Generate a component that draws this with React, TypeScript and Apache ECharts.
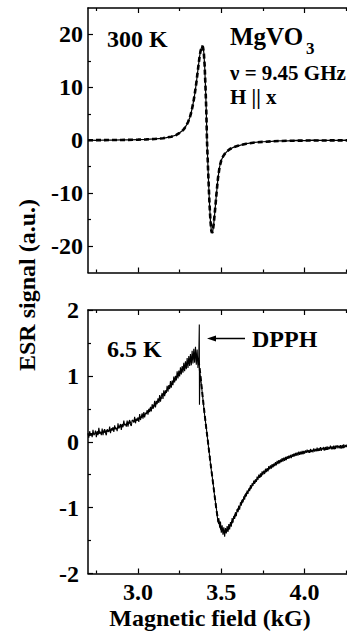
import React, { useEffect, useRef } from "react";
import * as echarts from "echarts";

// ---- Data ----
// 300 K: measured ESR signal (solid) and fit (dashed)
const ESR_300K: [number, number][] = [
  [2.70, 0.02], [2.75, -0.03], [2.80, 0.05], [2.85, 0.01], [2.90, 0.07], [2.95, 0.06],
  [3.00, 0.12], [3.05, 0.15], [3.10, 0.25], [3.15, 0.37], [3.20, 0.69], [3.23, 1.0],
  [3.25, 1.4], [3.27, 1.9], [3.28, 2.3], [3.29, 2.8], [3.30, 3.4], [3.31, 4.2], [3.32, 5.3],
  [3.33, 6.8], [3.34, 8.6], [3.35, 10.8], [3.36, 13.4], [3.37, 15.9], [3.375, 16.8],
  [3.38, 17.4], [3.385, 17.8], [3.39, 17.6], [3.395, 16.6], [3.40, 14.2], [3.405, 10.2],
  [3.41, 5.5], [3.414, 0.0], [3.42, -5.0], [3.425, -9.0], [3.43, -12.5], [3.435, -15.3],
  [3.44, -17.1], [3.444, -17.5], [3.448, -17.3], [3.45, -16.9], [3.455, -15.7], [3.46, -14.0],
  [3.465, -12.3], [3.47, -10.5], [3.475, -8.8], [3.48, -7.2], [3.49, -5.0], [3.50, -3.8],
  [3.51, -3.1], [3.52, -2.6], [3.535, -2.1], [3.55, -1.7], [3.575, -1.3], [3.60, -1.05],
  [3.65, -0.65], [3.70, -0.42], [3.75, -0.28], [3.80, -0.22], [3.85, -0.12], [3.90, -0.10],
  [3.95, -0.04], [4.00, -0.06], [4.05, 0.01], [4.10, -0.04], [4.15, 0.0], [4.20, -0.02],
  [4.25, 0.01], [4.30, -0.01],
];

const FIT_300K: [number, number][] = [
  [2.70, 0.0], [2.80, 0.03], [2.90, 0.06], [3.00, 0.11], [3.05, 0.16], [3.10, 0.24],
  [3.15, 0.38], [3.20, 0.68], [3.23, 1.0], [3.25, 1.4], [3.27, 1.9], [3.28, 2.3], [3.29, 2.8],
  [3.30, 3.4], [3.31, 4.2], [3.32, 5.3], [3.33, 6.8], [3.34, 8.6], [3.35, 10.8], [3.36, 13.4],
  [3.37, 15.9], [3.375, 16.8], [3.38, 17.4], [3.385, 17.8], [3.39, 17.6], [3.395, 16.6],
  [3.40, 14.2], [3.405, 10.2], [3.41, 5.5], [3.414, 0.0], [3.42, -5.0], [3.425, -9.0],
  [3.43, -12.5], [3.435, -15.3], [3.44, -17.1], [3.444, -17.5], [3.448, -17.3], [3.45, -16.9],
  [3.455, -15.7], [3.46, -14.0], [3.465, -12.3], [3.47, -10.5], [3.475, -8.8], [3.48, -7.2],
  [3.49, -5.0], [3.50, -3.8], [3.51, -3.1], [3.52, -2.6], [3.535, -2.1], [3.55, -1.7],
  [3.575, -1.3], [3.60, -1.05], [3.65, -0.65], [3.70, -0.42], [3.80, -0.2], [3.90, -0.1],
  [4.00, -0.06], [4.10, -0.04], [4.20, -0.02], [4.30, -0.01],
];

// 6.5 K: measured ESR signal (noisy, with the narrow DPPH marker line)
const ESR_6K: [number, number][] = [
  [2.700, 0.13], [2.705, 0.06], [2.710, 0.16], [2.715, 0.10], [2.720, 0.13], [2.725, 0.07],
  [2.730, 0.18], [2.735, 0.10], [2.740, 0.12], [2.745, 0.17], [2.750, 0.07], [2.755, 0.16],
  [2.760, 0.10], [2.765, 0.21], [2.770, 0.13], [2.775, 0.15], [2.780, 0.10], [2.785, 0.20],
  [2.790, 0.10], [2.795, 0.17], [2.800, 0.19], [2.805, 0.13], [2.810, 0.10], [2.815, 0.19],
  [2.820, 0.17], [2.825, 0.15], [2.830, 0.23], [2.835, 0.13], [2.840, 0.20], [2.845, 0.17],
  [2.850, 0.22], [2.855, 0.15], [2.860, 0.25], [2.865, 0.19], [2.870, 0.21], [2.875, 0.16],
  [2.880, 0.28], [2.885, 0.20], [2.890, 0.23], [2.895, 0.27], [2.900, 0.18], [2.905, 0.27],
  [2.910, 0.22], [2.915, 0.32], [2.920, 0.25], [2.925, 0.27], [2.930, 0.23], [2.935, 0.32],
  [2.940, 0.23], [2.945, 0.30], [2.950, 0.33], [2.955, 0.26], [2.960, 0.24], [2.965, 0.33],
  [2.970, 0.32], [2.975, 0.29], [2.980, 0.38], [2.985, 0.28], [2.990, 0.35], [2.995, 0.32],
  [3.000, 0.37], [3.005, 0.30], [3.010, 0.42], [3.015, 0.33], [3.020, 0.38], [3.025, 0.43],
  [3.030, 0.35], [3.035, 0.45], [3.040, 0.37], [3.045, 0.44], [3.050, 0.42], [3.055, 0.48],
  [3.060, 0.41], [3.065, 0.50], [3.070, 0.45], [3.075, 0.53], [3.080, 0.46], [3.085, 0.57],
  [3.090, 0.50], [3.095, 0.53], [3.100, 0.62], [3.105, 0.52], [3.110, 0.62], [3.115, 0.57],
  [3.120, 0.66], [3.125, 0.59], [3.130, 0.71], [3.135, 0.61], [3.140, 0.69], [3.145, 0.74],
  [3.150, 0.65], [3.155, 0.78], [3.160, 0.69], [3.165, 0.78], [3.170, 0.74], [3.175, 0.85],
  [3.180, 0.76], [3.185, 0.86], [3.190, 0.80], [3.195, 0.92], [3.200, 0.82], [3.205, 0.93],
  [3.210, 0.86], [3.215, 0.99], [3.220, 0.90], [3.225, 1.00], [3.230, 0.93], [3.235, 1.07],
  [3.240, 0.96], [3.245, 1.08], [3.250, 0.99], [3.255, 1.13], [3.260, 1.02], [3.265, 1.15],
  [3.270, 1.05], [3.275, 1.20], [3.280, 1.07], [3.285, 1.22], [3.290, 1.10], [3.295, 1.27],
  [3.300, 1.12], [3.305, 1.30], [3.310, 1.15], [3.315, 1.33], [3.320, 1.16], [3.325, 1.38],
  [3.330, 1.19], [3.335, 1.41], [3.340, 1.20], [3.345, 1.44], [3.350, 1.17], [3.355, 1.40],
  [3.360, 1.12], [3.365, 1.30], [3.368, 1.78], [3.369, 0.56], [3.372, 1.05],
  [3.380, 0.88], [3.390, 0.64], [3.400, 0.40], [3.410, 0.21], [3.420, -0.01], [3.430, -0.22],
  [3.440, -0.43], [3.450, -0.61], [3.460, -0.83], [3.470, -1.00],
  [3.480, -1.22], [3.485, -1.16], [3.490, -1.30], [3.495, -1.21], [3.500, -1.38], [3.505, -1.27],
  [3.510, -1.41], [3.515, -1.30], [3.520, -1.44], [3.525, -1.31], [3.530, -1.39], [3.535, -1.28],
  [3.540, -1.37], [3.545, -1.25], [3.550, -1.33], [3.555, -1.22], [3.560, -1.29], [3.565, -1.16],
  [3.570, -1.23], [3.575, -1.13], [3.580, -1.17], [3.585, -1.07], [3.590, -1.13], [3.595, -1.02],
  [3.600, -1.07], [3.605, -0.97], [3.610, -1.03], [3.615, -0.92], [3.620, -0.97], [3.625, -0.88],
  [3.630, -0.92], [3.635, -0.83], [3.640, -0.88], [3.645, -0.79], [3.650, -0.83], [3.655, -0.74],
  [3.660, -0.79], [3.665, -0.71], [3.670, -0.75], [3.675, -0.66], [3.680, -0.71], [3.685, -0.63],
  [3.690, -0.67], [3.695, -0.59], [3.700, -0.64], [3.705, -0.57], [3.710, -0.61], [3.715, -0.53],
  [3.720, -0.58], [3.725, -0.50], [3.730, -0.55], [3.735, -0.48], [3.740, -0.53], [3.745, -0.45],
  [3.750, -0.50], [3.755, -0.44], [3.760, -0.49], [3.765, -0.41], [3.770, -0.46], [3.775, -0.40],
  [3.780, -0.45], [3.785, -0.37], [3.790, -0.42], [3.795, -0.36], [3.800, -0.41], [3.805, -0.34],
  [3.810, -0.39], [3.815, -0.33], [3.820, -0.37], [3.825, -0.31], [3.830, -0.36], [3.835, -0.29],
  [3.840, -0.34], [3.845, -0.28], [3.850, -0.33], [3.855, -0.27], [3.860, -0.31], [3.865, -0.25],
  [3.870, -0.30], [3.875, -0.24], [3.880, -0.29], [3.885, -0.23], [3.890, -0.28], [3.895, -0.22],
  [3.900, -0.26], [3.905, -0.21], [3.910, -0.25], [3.915, -0.20], [3.920, -0.25], [3.925, -0.19],
  [3.930, -0.23], [3.935, -0.18], [3.940, -0.22], [3.945, -0.17], [3.950, -0.21], [3.955, -0.16],
  [3.960, -0.21], [3.965, -0.15], [3.970, -0.20], [3.975, -0.15], [3.980, -0.19], [3.985, -0.14],
  [3.990, -0.19], [3.995, -0.14], [4.000, -0.18], [4.005, -0.13], [4.010, -0.17], [4.015, -0.12],
  [4.020, -0.16], [4.025, -0.13], [4.030, -0.17], [4.035, -0.11], [4.040, -0.15], [4.045, -0.12],
  [4.050, -0.16], [4.055, -0.10], [4.060, -0.15], [4.065, -0.11], [4.070, -0.14], [4.075, -0.09],
  [4.080, -0.14], [4.085, -0.10], [4.090, -0.13], [4.095, -0.08], [4.100, -0.14], [4.105, -0.09],
  [4.110, -0.12], [4.115, -0.08], [4.120, -0.13], [4.125, -0.08], [4.130, -0.11], [4.135, -0.07],
  [4.140, -0.12], [4.145, -0.08], [4.150, -0.11], [4.155, -0.06], [4.160, -0.11], [4.165, -0.07],
  [4.170, -0.10], [4.175, -0.06], [4.180, -0.11], [4.185, -0.06], [4.190, -0.09], [4.195, -0.05],
  [4.200, -0.10], [4.205, -0.06], [4.210, -0.09], [4.215, -0.05], [4.220, -0.10], [4.225, -0.05],
  [4.230, -0.08], [4.235, -0.04], [4.240, -0.09], [4.245, -0.05], [4.250, -0.08], [4.255, -0.04],
  [4.260, -0.09], [4.265, -0.05], [4.270, -0.07], [4.275, -0.04], [4.280, -0.08], [4.285, -0.04],
  [4.290, -0.07], [4.295, -0.04], [4.300, -0.07],
];

const FIT_6K: [number, number][] = [
  [2.70, 0.10], [2.80, 0.15], [2.90, 0.24], [3.00, 0.34], [3.05, 0.43], [3.10, 0.56],
  [3.15, 0.70], [3.20, 0.87], [3.25, 1.04], [3.30, 1.20], [3.33, 1.27], [3.35, 1.30],
  [3.36, 1.27], [3.37, 1.12], [3.38, 0.88], [3.39, 0.64], [3.40, 0.42], [3.41, 0.20],
  [3.42, 0.0], [3.43, -0.22], [3.44, -0.42], [3.45, -0.62], [3.46, -0.82], [3.47, -1.02],
  [3.48, -1.18], [3.49, -1.27], [3.50, -1.33], [3.52, -1.37], [3.54, -1.33], [3.56, -1.24],
  [3.58, -1.13], [3.60, -1.03], [3.62, -0.93], [3.65, -0.79], [3.70, -0.61], [3.75, -0.48],
  [3.80, -0.38], [3.85, -0.30], [3.90, -0.24], [3.95, -0.19], [4.00, -0.16], [4.10, -0.12],
  [4.20, -0.09], [4.30, -0.07],
];

// Axis ticks / labels
const X_MAJOR = [3.0, 3.5, 4.0];
const X_MINOR = [2.75, 3.25, 3.75, 4.25];
const Y_TOP_MAJOR = [-20, -10, 0, 10, 20];
const Y_TOP_MINOR = [-15, -5, 5, 15];
const Y_BOT_MAJOR = [-2, -1, 0, 1, 2];
const Y_BOT_MINOR = [-1.5, -0.5, 0.5, 1.5];

const FONT = '"Liberation Serif", "Times New Roman", serif';
const BLACK = "#000";

function xAxisDef(grid: number, pos: "top" | "bottom", ticks: number[], len: number, line: boolean, labels: boolean) {
  return {
    type: "value",
    gridIndex: grid,
    position: pos,
    min: 2.7,
    max: 4.3,
    axisLine: { show: line, onZero: false, lineStyle: { color: BLACK, width: 1.5 } },
    axisTick: { show: true, inside: true, length: len, customValues: ticks, lineStyle: { color: BLACK, width: 1.2 } },
    axisLabel: labels
      ? {
          show: true,
          customValues: X_MAJOR,
          formatter: (v: number) => v.toFixed(1),
          color: BLACK,
          fontFamily: FONT,
          fontWeight: "bold",
          fontSize: 24,
          margin: 6,
        }
      : { show: false },
    splitLine: { show: false },
  };
}

function yAxisDef(grid: number, min: number, max: number, ticks: number[], len: number, line: boolean, labels: number[] | null, margin: number) {
  return {
    type: "value",
    gridIndex: grid,
    position: "left",
    min,
    max,
    axisLine: { show: line, onZero: false, lineStyle: { color: BLACK, width: 1.5 } },
    axisTick: { show: true, inside: true, length: len, customValues: ticks, lineStyle: { color: BLACK, width: 1.2 } },
    axisLabel: labels
      ? {
          show: true,
          customValues: labels,
          color: BLACK,
          fontFamily: FONT,
          fontWeight: "bold",
          fontSize: 24,
          margin,
        }
      : { show: false },
    splitLine: { show: false },
  };
}

export default function App() {
  const ref = useRef<HTMLDivElement>(null);

  useEffect(() => {
    if (!ref.current) return;
    const chart = echarts.init(ref.current, undefined, { renderer: "svg" });
    const txt = (text: string, x: number, y: number, size: number, align = "left", extra: any = {}) => ({
      type: "text",
      x,
      y,
      silent: true,
      ...extra,
      style: {
        text,
        fill: BLACK,
        font: `bold ${size}px ${FONT}`,
        align,
        verticalAlign: "middle",
      },
    });

    const gTop = { left: 88, top: 8, width: 266.6, height: 264.5 };
    const gBot = { left: 88, top: 310, width: 266.6, height: 263.5 };

    chart.setOption({
      animation: false,
      backgroundColor: "#fff",
      grid: [gTop, gBot, gTop, gBot],
      xAxis: [
        xAxisDef(0, "bottom", X_MAJOR, 5, true, false),
        xAxisDef(0, "top", X_MAJOR, 5, true, false),
        xAxisDef(1, "bottom", X_MAJOR, 5, true, true),
        xAxisDef(1, "top", X_MAJOR, 5, true, false),
        xAxisDef(2, "bottom", X_MINOR, 3, false, false),
        xAxisDef(2, "top", X_MINOR, 3, false, false),
        xAxisDef(3, "bottom", X_MINOR, 3, false, false),
        xAxisDef(3, "top", X_MINOR, 3, false, false),
      ],
      yAxis: [
        yAxisDef(0, -25, 25, Y_TOP_MAJOR, 5, true, Y_TOP_MAJOR, 5),
        yAxisDef(1, -2, 2, Y_BOT_MAJOR, 5, true, Y_BOT_MAJOR, 9),
        yAxisDef(2, -25, 25, Y_TOP_MINOR, 3, false, null, 0),
        yAxisDef(3, -2, 2, Y_BOT_MINOR, 3, false, null, 0),
      ],
      series: [
        {
          type: "line", xAxisIndex: 0, yAxisIndex: 0, data: ESR_300K, showSymbol: false, silent: true,
          lineStyle: { color: BLACK, width: 1.2 }, z: 2,
        },
        {
          type: "line", xAxisIndex: 0, yAxisIndex: 0, data: FIT_300K, showSymbol: false, silent: true,
          lineStyle: { color: BLACK, width: 2.6, type: [5, 3] }, z: 3,
        },
        {
          type: "line", xAxisIndex: 2, yAxisIndex: 1, data: ESR_6K, showSymbol: false, silent: true,
          lineStyle: { color: BLACK, width: 1.1 }, z: 2,
        },
        {
          type: "line", xAxisIndex: 2, yAxisIndex: 1, data: FIT_6K, showSymbol: false, silent: true,
          lineStyle: { color: BLACK, width: 2, type: [5, 3] }, z: 3,
        },
      ],
      graphic: [
        txt("300 K", 107, 39, 24),
        txt("MgVO", 230, 36, 25),
        txt("3", 306, 48, 17),
        txt("ν = 9.45 GHz", 230, 73, 21),
        txt("H || x", 230, 97, 21),
        txt("6.5 K", 107, 349, 24),
        txt("DPPH", 252, 339, 24),
        {
          type: "line", silent: true,
          shape: { x1: 245, y1: 338.5, x2: 212, y2: 338.5 },
          style: { stroke: BLACK, lineWidth: 1.3 },
        },
        {
          type: "polygon", silent: true,
          shape: { points: [[207, 338.5], [216, 335.5], [216, 341.5]] },
          style: { fill: BLACK },
        },
        txt("Magnetic field (kG)", 210, 618, 24, "center"),
        txt("ESR signal (a.u.)", 27, 285, 24, "center", { rotation: Math.PI / 2 }),
      ],
    });
    return () => chart.dispose();
  }, []);

  return (
    <div
      ref={ref}
      style={{ position: "fixed", left: 0, top: 0, width: 360, height: 637, background: "#fff" }}
    />
  );
}
